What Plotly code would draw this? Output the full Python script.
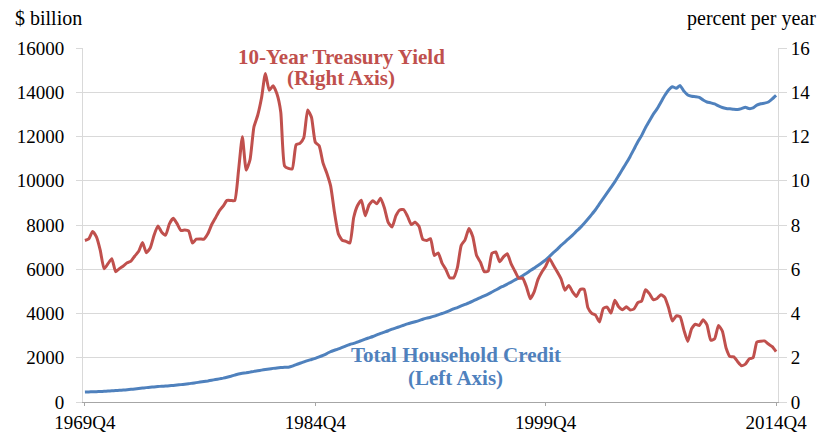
import plotly.graph_objects as go

# Quarterly categories 1969Q4 .. 2014Q4
quarters = ["1969Q4"] + [f"{y}Q{q}" for y in range(1970, 2015) for q in range(1, 5)]
tick_labels = ["1969Q4", "1984Q4", "1999Q4", "2014Q4"]

# Total household credit, $ billion (left axis)
household_credit = [
    450,                          # 1969
    455, 462, 468, 475,           # 1970
    484, 494, 505, 515,           # 1971
    527, 540, 555, 572,           # 1972
    590, 610, 630, 650,           # 1973
    665, 682, 700, 712,           # 1974
    722, 735, 750, 768,           # 1975
    785, 805, 825, 850,           # 1976
    875, 900, 925, 952,           # 1977
    985, 1015, 1045, 1080,        # 1978
    1120, 1165, 1215, 1265,       # 1979
    1295, 1320, 1350, 1385,       # 1980
    1410, 1440, 1470, 1495,       # 1981
    1520, 1540, 1555, 1565,       # 1982
    1575, 1620, 1690, 1750,       # 1983
    1810, 1870, 1920, 1975,       # 1984
    2040, 2110, 2190, 2280,       # 1985
    2340, 2400, 2470, 2540,       # 1986
    2600, 2650, 2710, 2770,       # 1987
    2840, 2900, 2960, 3030,       # 1988
    3100, 3160, 3220, 3290,       # 1989
    3350, 3410, 3470, 3530,       # 1990
    3580, 3630, 3680, 3740,       # 1991
    3790, 3830, 3880, 3940,       # 1992
    4000, 4060, 4130, 4210,       # 1993
    4270, 4340, 4410, 4480,       # 1994
    4560, 4640, 4720, 4800,       # 1995
    4880, 4970, 5060, 5160,       # 1996
    5240, 5330, 5420, 5520,       # 1997
    5610, 5710, 5820, 5940,       # 1998
    6050, 6170, 6290, 6420,       # 1999
    6580, 6750, 6900, 7080,       # 2000
    7230, 7380, 7540, 7720,       # 2001
    7880, 8070, 8270, 8480,       # 2002
    8700, 8950, 9200, 9450,       # 2003
    9700, 9950, 10230, 10520,     # 2004
    10800, 11100, 11430, 11760,   # 2005
    12050, 12400, 12700, 13000,   # 2006
    13250, 13550, 13850, 14100,   # 2007
    14250, 14180, 14300, 14050,   # 2008
    13880, 13820, 13800, 13770,   # 2009
    13650, 13560, 13520, 13470,   # 2010
    13380, 13310, 13270, 13250,   # 2011
    13230, 13220, 13260, 13320,   # 2012
    13260, 13290, 13420, 13480,   # 2013
    13510, 13560, 13700, 13860,   # 2014
]

# 10-year Treasury yield, percent per year (right axis)
treasury_yield = [
    7.30,                         # 1969
    7.37, 7.71, 7.46, 6.85,       # 1970
    6.02, 6.25, 6.48, 5.89,       # 1971
    6.03, 6.15, 6.29, 6.37,       # 1972
    6.60, 6.81, 7.21, 6.75,       # 1973
    6.96, 7.54, 7.96, 7.67,       # 1974
    7.54, 8.05, 8.30, 8.06,       # 1975
    7.75, 7.77, 7.73, 7.19,       # 1976
    7.36, 7.37, 7.36, 7.60,       # 1977
    8.01, 8.32, 8.64, 8.85,       # 1978
    9.11, 9.11, 9.10, 10.45,      # 1979
    11.99, 10.48, 10.95, 12.42,   # 1980
    12.96, 13.75, 14.85, 14.09,   # 1981
    14.29, 13.93, 13.11, 10.67,   # 1982
    10.56, 10.54, 11.63, 11.69,   # 1983
    11.94, 13.20, 12.87, 11.74,   # 1984
    11.58, 10.81, 10.34, 9.76,    # 1985
    8.56, 7.60, 7.31, 7.26,       # 1986
    7.19, 8.34, 8.88, 9.12,       # 1987
    8.42, 8.91, 9.10, 8.96,       # 1988
    9.21, 8.77, 8.11, 7.91,       # 1989
    8.42, 8.68, 8.70, 8.40,       # 1990
    8.02, 8.13, 7.94, 7.35,       # 1991
    7.30, 7.38, 6.62, 6.74,       # 1992
    6.28, 5.99, 5.62, 5.61,       # 1993
    6.07, 7.08, 7.33, 7.84,       # 1994
    7.48, 6.62, 6.32, 5.89,       # 1995
    5.91, 6.72, 6.78, 6.34,       # 1996
    6.56, 6.70, 6.24, 5.91,       # 1997
    5.59, 5.60, 5.20, 4.67,       # 1998
    4.98, 5.54, 5.88, 6.14,       # 1999
    6.48, 6.18, 5.89, 5.57,       # 2000
    5.05, 5.27, 4.98, 4.77,       # 2001
    5.08, 5.10, 4.26, 4.01,       # 2002
    3.92, 3.62, 4.23, 4.29,       # 2003
    4.02, 4.60, 4.30, 4.17,       # 2004
    4.30, 4.16, 4.21, 4.49,       # 2005
    4.57, 5.07, 4.90, 4.63,       # 2006
    4.68, 4.85, 4.73, 4.26,       # 2007
    3.66, 3.89, 3.86, 3.25,       # 2008
    2.74, 3.31, 3.52, 3.46,       # 2009
    3.72, 3.49, 2.79, 2.86,       # 2010
    3.46, 3.21, 2.43, 2.05,       # 2011
    2.04, 1.82, 1.64, 1.71,       # 2012
    1.95, 2.00, 2.71, 2.75,       # 2013
    2.76, 2.62, 2.50, 2.28,       # 2014
]

RED = "#C0504D"
BLUE = "#4F81BD"
GRID = "#D9D9D9"
FONT = "Liberation Serif, Times New Roman, serif"

# plot area in pixels: left 83, right 778, top 48, bottom 402
L, R, T, B = 83, 778, 48, 402


def px(x, y):
    return (x - L) / (R - L), (B - y) / (B - T)


fig = go.Figure()

fig.add_trace(go.Scatter(
    x=quarters, y=household_credit, mode="lines",
    line=dict(color=BLUE, width=3, shape="spline", smoothing=0.5),
    yaxis="y", showlegend=False,
))
fig.add_trace(go.Scatter(
    x=quarters, y=treasury_yield, mode="lines",
    line=dict(color=RED, width=3, shape="spline", smoothing=0.5),
    yaxis="y2", showlegend=False,
))

tickfont = dict(family=FONT, size=19, color="#000000")

fig.update_layout(
    width=820, height=432, autosize=False,
    margin=dict(l=L, r=820 - R, t=T, b=432 - B, autoexpand=False),
    plot_bgcolor="white", paper_bgcolor="white",
    font=dict(family=FONT, size=19, color="#000000"),
    xaxis=dict(
        type="category", range=[-0.5, len(quarters) - 0.5], automargin=False,
        tickmode="array", tickvals=tick_labels, ticktext=tick_labels,
        showgrid=False, showline=True, linecolor="#A6A6A6", linewidth=1,
        ticks="outside", ticklen=3, tickcolor="#A6A6A6",
        tickfont=tickfont, tickangle=0,
    ),
    yaxis=dict(
        range=[0, 16000], dtick=2000, tick0=0, tickformat="d", automargin=False,
        showgrid=True, gridcolor=GRID, gridwidth=1, zeroline=False,
        showline=True, linecolor=GRID, linewidth=1,
        ticks="outside", ticklen=6, tickcolor=GRID,
        ticklabelstandoff=8, tickfont=tickfont,
    ),
    yaxis2=dict(
        range=[0, 16], dtick=2, tick0=0, tickformat="d", automargin=False,
        overlaying="y", side="right",
        showgrid=False, zeroline=False,
        showline=True, linecolor=GRID, linewidth=1,
        ticks="outside", ticklen=8, tickcolor=GRID,
        tickfont=tickfont,
    ),
)

annotations = []


def add_text(text, x, y, color="#000000", size=20, xanchor="center", bold=False):
    xp, yp = px(x, y)
    annotations.append(dict(
        text=f"<b>{text}</b>" if bold else text,
        x=xp, y=yp, xref="paper", yref="paper",
        xanchor=xanchor, yanchor="middle", showarrow=False,
        font=dict(family=FONT, size=size, color=color),
    ))


add_text("$ billion", 13, 18, xanchor="left")
add_text("percent per year", 818, 18, xanchor="right")
add_text("10-Year Treasury Yield", 341, 57, color=RED, size=21, bold=True)
add_text("(Right Axis)", 341, 78, color=RED, size=21, bold=True)
add_text("Total Household Credit", 456, 355, color=BLUE, size=21, bold=True)
add_text("(Left Axis)", 455, 378, color=BLUE, size=21, bold=True)

fig.update_layout(annotations=annotations)

fig.write_html(
    "out.html",
    config={"displayModeBar": False},
    post_script="document.body.style.margin='0px';document.body.style.overflow='hidden';",
)
